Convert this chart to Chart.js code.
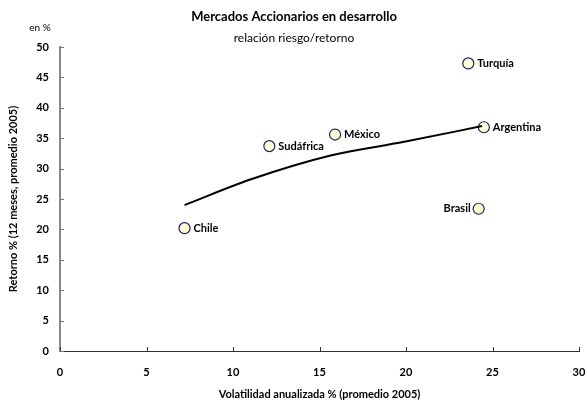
<!DOCTYPE html>
<html>
<head>
<meta charset="utf-8">
<script src="https://cdn.jsdelivr.net/npm/chart.js@4"></script>
<style>
  html, body { margin: 0; padding: 0; background: #fff; }
  #wrap { width: 587px; height: 403px; }
</style>
</head>
<body>
<div id="wrap"><canvas id="riskChart" width="587" height="403"></canvas></div>
<script>
// países y valores
const countries = ['Chile', 'Sudáfrica', 'México', 'Turquía', 'Argentina', 'Brasil'];
const volatility = [7.2, 12.1, 15.9, 23.6, 24.5, 24.2];
const returns = [20.2, 33.7, 35.6, 47.3, 36.8, 23.4];
const labelSide = ['right', 'right', 'right', 'right', 'right', 'left'];

// línea de tendencia
const trendX = [7.2, 11.0, 15.7, 19.9, 24.4];
const trendY = [24.0, 28.2, 32.2, 34.4, 37.0];

const xTicks = [0, 5, 10, 15, 20, 25, 30];
const yTicks = [0, 5, 10, 15, 20, 25, 30, 35, 40, 45, 50];

const FONT = 'Lato, "Open Sans", sans-serif';

const decorPlugin = {
    id: 'decor',
    afterDraw(chart) {
        const ctx = chart.ctx;
        const xs = chart.scales.x, ys = chart.scales.y;
        ctx.save();

        // marcas de escala hacia adentro
        ctx.strokeStyle = '#333';
        ctx.lineWidth = 1;
        xTicks.forEach(v => {
            const px = Math.round(xs.getPixelForValue(v)) + 0.5;
            ctx.beginPath();
            ctx.moveTo(px, ys.bottom);
            ctx.lineTo(px, ys.bottom - 4);
            ctx.stroke();
        });
        ctx.strokeStyle = '#777';
        yTicks.forEach(v => {
            const py = Math.round(ys.getPixelForValue(v)) + 0.5;
            ctx.beginPath();
            ctx.moveTo(xs.left, py);
            ctx.lineTo(xs.left + 4, py);
            ctx.stroke();
        });

        // títulos
        ctx.fillStyle = '#000';
        ctx.textAlign = 'center';
        ctx.textBaseline = 'middle';
        ctx.font = 'bold 13px ' + FONT;
        ctx.fillText('Mercados Accionarios en desarrollo', 294, 17);
        ctx.font = '12px ' + FONT;
        ctx.fillText('relación riesgo/retorno', 294, 38);
        ctx.font = '10px ' + FONT;
        ctx.fillText('en %', 40, 28);

        // etiquetas de los puntos
        const meta = chart.getDatasetMeta(1);
        ctx.font = 'bold 11px ' + FONT;
        meta.data.forEach((pt, i) => {
            if (labelSide[i] === 'left') {
                ctx.textAlign = 'right';
                ctx.fillText(countries[i], pt.x - 8, pt.y);
            } else {
                ctx.textAlign = 'left';
                ctx.fillText(countries[i], pt.x + 9, pt.y);
            }
        });
        ctx.restore();
    }
};

const ctx = document.getElementById('riskChart').getContext('2d');
new Chart(ctx, {
    type: 'scatter',
    data: {
        datasets: [{
            type: 'line',
            data: trendX.map((x, i) => ({ x: x, y: trendY[i] })),
            borderColor: '#000',
            borderWidth: 2,
            pointRadius: 0,
            cubicInterpolationMode: 'monotone',
            fill: false
        }, {
            data: volatility.map((x, i) => ({ x: x, y: returns[i] })),
            backgroundColor: '#ffffcc',
            borderColor: '#1a1a8c',
            borderWidth: 1.2,
            pointRadius: 5.5
        }]
    },
    options: {
        responsive: false,
        animation: false,
        layout: { padding: { left: 0, right: 0, top: 47, bottom: 0 } },
        plugins: {
            legend: { display: false },
            tooltip: { enabled: false }
        },
        scales: {
            x: {
                type: 'linear',
                min: 0,
                max: 30,
                afterBuildTicks: s => { s.ticks = xTicks.map(v => ({ value: v })); },
                afterFit: s => { s.height = 52; s.paddingRight = 8; },
                grid: { display: false, drawTicks: false },
                border: { display: true, color: '#333', width: 1 },
                ticks: {
                    padding: 15,
                    color: '#000',
                    font: { family: FONT, size: 11, weight: 'bold' }
                },
                title: {
                    display: true,
                    text: 'Volatilidad anualizada % (promedio 2005)',
                    color: '#000',
                    padding: { top: 0, bottom: 2 },
                    font: { family: FONT, size: 11, weight: 'bold' }
                }
            },
            y: {
                type: 'linear',
                min: 0,
                max: 50,
                afterBuildTicks: s => { s.ticks = yTicks.map(v => ({ value: v })); },
                afterFit: s => { s.width = 60; },
                grid: { display: false, drawTicks: false },
                border: { display: true, color: '#888', width: 2 },
                ticks: {
                    padding: 11,
                    color: '#000',
                    font: { family: FONT, size: 11, weight: 'bold' }
                },
                title: {
                    display: true,
                    text: 'Retorno % (12 meses, promedio 2005)',
                    color: '#000',
                    padding: { top: 7, bottom: 0 },
                    font: { family: FONT, size: 11, weight: 'bold' }
                }
            }
        }
    },
    plugins: [decorPlugin]
});
</script>
</body>
</html>
